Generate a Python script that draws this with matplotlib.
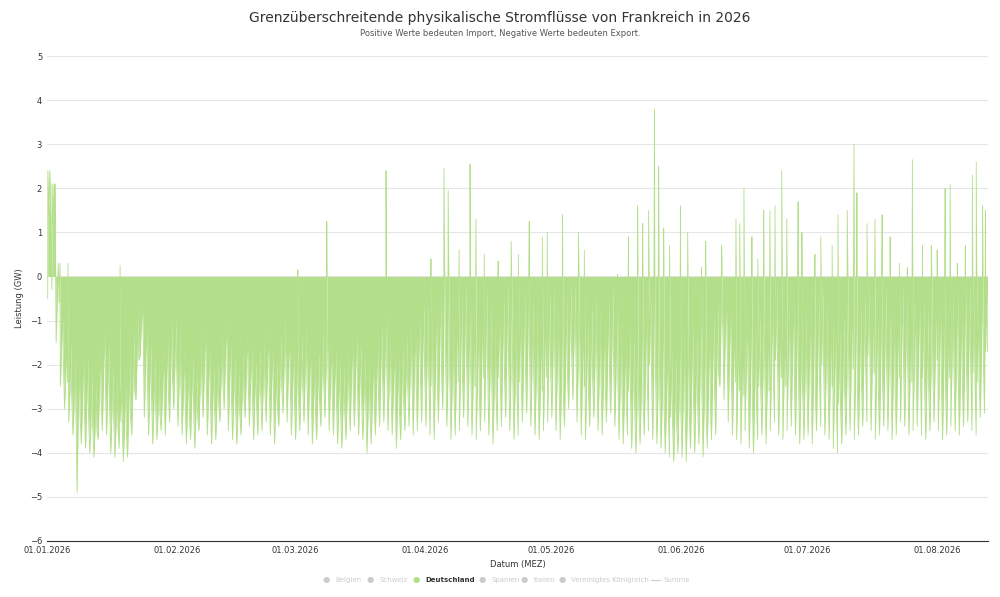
import numpy as np
import pandas as pd
import matplotlib.pyplot as plt
import matplotlib.dates as mdates

# daily lowest value (GW), 01.01.2026 .. 12.08.2026
low_jan = [-0.5, -0.3, -1.5, -2.5, -3.0, -3.3, -3.6, -4.9, -3.8, -3.9, -4.0, -4.1, -3.7, -3.5, -3.6, -4.0,
           -4.1, -3.9, -4.2, -4.1, -3.6, -2.8, -1.8, -3.2, -3.6, -3.8, -3.7, -3.5, -3.6, -3.3, -3.0]
low_feb = [-3.4, -3.6, -3.8, -3.7, -3.9, -3.5, -3.2, -3.6, -3.8, -3.7, -3.3, -3.0, -3.5, -3.7, -3.8, -3.6,
           -3.2, -3.4, -3.7, -3.6, -3.5, -3.3, -3.6, -3.8, -3.4, -3.1, -3.3, -3.6]
low_mar = [-3.7, -3.5, -3.3, -3.6, -3.8, -3.7, -3.4, -3.2, -3.5, -3.6, -3.8, -3.9, -3.7, -3.5, -3.4, -3.6,
           -3.7, -4.0, -3.8, -3.6, -3.4, -3.3, -3.5, -3.6, -3.9, -3.7, -3.5, -3.4, -3.6, -3.5, -3.3]
low_apr = [-3.4, -3.6, -3.7, -3.3, -3.0, -3.4, -3.7, -3.6, -3.5, -3.2, -3.4, -3.6, -3.7, -3.5, -3.3, -3.6,
           -3.8, -3.5, -3.4, -3.2, -3.5, -3.7, -3.6, -3.3, -3.1, -3.4, -3.6, -3.7, -3.5, -3.3]
low_may = [-3.2, -3.5, -3.7, -3.4, -3.0, -2.8, -3.3, -3.6, -3.7, -3.4, -3.2, -3.5, -3.6, -3.3, -3.1, -3.4,
           -3.7, -3.8, -3.6, -3.9, -4.0, -3.8, -3.6, -3.5, -3.7, -3.8, -3.9, -4.0, -4.1, -4.2, -4.0]
low_jun = [-4.1, -4.2, -3.9, -4.0, -3.8, -4.1, -3.9, -3.7, -3.6, -2.5, -2.8, -3.3, -3.6, -3.7, -3.8, -3.5,
           -3.9, -4.0, -3.7, -3.6, -3.8, -3.5, -3.3, -3.6, -3.7, -3.5, -3.4, -3.6, -3.8, -3.7]
low_jul = [-3.6, -3.8, -3.5, -3.4, -3.6, -3.7, -3.9, -4.0, -3.8, -3.6, -3.5, -3.7, -3.6, -3.4, -3.3, -3.5,
           -3.7, -3.6, -3.4, -3.5, -3.7, -3.6, -3.3, -3.4, -3.6, -3.5, -3.4, -3.6, -3.7, -3.5, -3.3]
low_aug = [-3.5, -3.7, -3.6, -3.4, -3.5, -3.6, -3.4, -3.3, -3.5, -3.6, -3.2, -3.1]

# typical daytime level (GW)
mid_jan = [1.4, 1.2, -0.6, -1.8, -2.4, -2.7, -3.0, -3.2, -3.0, -3.1, -3.4, -3.5, -2.8, -2.4, -2.8, -3.2,
           -3.4, -3.3, -3.5, -3.2, -2.6, -1.9, -1.2, -2.2, -2.7, -3.0, -3.1, -2.8, -2.6, -2.3, -2.1]
mid_feb = [-2.5, -2.8, -3.1, -2.9, -3.2, -2.6, -2.2, -2.7, -3.0, -2.9, -2.4, -2.0, -2.6, -2.9, -3.1, -2.8,
           -2.3, -2.6, -2.9, -2.7, -2.6, -2.3, -2.7, -3.0, -2.5, -2.1, -2.3, -2.7]
mid_mar = [-2.8, -2.5, -2.3, -2.6, -3.0, -2.8, -2.4, -2.1, -2.6, -2.7, -3.0, -3.1, -2.8, -2.5, -2.4, -2.7,
           -2.9, -3.1, -2.9, -2.6, -2.3, -2.1, -2.5, -2.7, -3.0, -2.8, -2.5, -2.3, -2.4, -2.2, -2.0]
mid_apr = [-2.2, -2.5, -2.3, -2.0, -1.8, -2.3, -2.6, -2.4, -2.2, -1.9, -2.2, -2.5, -2.6, -2.3, -2.0, -2.4,
           -2.7, -2.3, -2.1, -1.9, -2.3, -2.6, -2.4, -2.0, -1.8, -2.2, -2.5, -2.6, -2.3, -2.0]
mid_may = [-1.9, -2.3, -2.6, -2.2, -1.7, -1.6, -2.1, -2.5, -2.6, -2.3, -2.0, -2.4, -2.5, -2.1, -1.9, -2.3,
           -2.6, -2.8, -2.6, -2.9, -3.0, -2.8, -2.3, -2.0, -2.3, -2.7, -2.9, -3.0, -3.2, -3.3, -3.0]
mid_jun = [-2.9, -3.1, -2.7, -2.9, -2.5, -3.0, -2.7, -2.4, -2.2, -1.2, -1.5, -2.0, -2.4, -2.6, -2.7, -2.3,
           -2.7, -2.9, -2.5, -2.3, -2.6, -2.2, -1.9, -2.3, -2.5, -2.2, -2.1, -2.3, -2.6, -2.4]
mid_jul = [-2.3, -2.6, -2.2, -2.0, -2.3, -2.5, -2.7, -2.9, -2.6, -2.3, -2.1, -2.5, -2.4, -2.0, -1.8, -2.2,
           -2.5, -2.3, -2.0, -2.2, -2.5, -2.3, -1.9, -2.0, -2.4, -2.2, -2.0, -2.3, -2.5, -2.2, -1.9]
mid_aug = [-2.2, -2.5, -2.3, -2.0, -2.2, -2.4, -2.1, -1.9, -2.2, -2.4, -1.8, -1.7]

# daily highest value (GW)
high_jan = [2.4, 2.1, 0.3, -0.8, -1.2, -1.5, -1.8, -2.0, -1.6, -1.8, -2.2, -2.4, -1.5, -1.0, -1.5, -2.0,
            -2.3, -2.5, -2.2, -1.8, -1.2, -0.8, -0.6, -1.0, -1.5, -1.8, -2.0, -1.6, -1.3, -1.0, -0.9]
high_feb = [-1.2, -1.6, -2.0, -1.8, -2.2, -1.4, -1.0, -1.5, -2.0, -1.9, -1.3, -0.9, -1.4, -1.8, -2.1, -1.7,
            -1.2, -1.5, -1.9, -1.6, -1.4, -1.1, -1.5, -1.9, -1.3, -0.9, -1.2, -1.6]
high_mar = [-1.6, -1.3, -1.1, -1.5, -1.9, -1.7, -1.2, -0.9, -1.4, -1.6, -1.9, -2.0, -1.7, -1.3, -1.2, -1.5,
            -1.8, -2.0, -1.7, -1.4, -1.1, -0.9, -1.3, -1.5, -1.8, -1.6, -1.3, -1.1, -1.0, -0.8, -0.6]
high_apr = [-0.5, -0.8, -0.3, -0.2, -0.1, -0.6, -0.9, -0.4, -0.3, -0.1, -0.5, -0.7, -0.9, -0.4, -0.2, -0.6,
            -1.0, -0.5, -0.3, -0.1, -0.5, -0.8, -0.6, -0.2, -0.1, -0.4, -0.7, -0.9, -0.5, -0.3]
high_may = [-0.2, -0.6, -0.9, -0.4, -0.1, -0.1, -0.5, -0.8, -1.0, -0.6, -0.3, -0.7, -0.9, -0.4, -0.2, -0.6,
            -1.0, -1.3, -1.1, -1.4, -1.5, -1.2, -0.6, -0.3, -0.5, -0.9, -1.2, -1.4, -1.6, -1.8, -1.5]
high_jun = [-1.2, -1.6, -1.0, -1.3, -0.9, -1.5, -1.1, -0.8, -0.5, -0.1, -0.2, -0.4, -0.7, -0.9, -1.1, -0.6,
            -1.0, -1.2, -0.8, -0.5, -0.9, -0.4, -0.2, -0.6, -0.8, -0.5, -0.3, -0.6, -0.9, -0.7]
high_jul = [-0.5, -0.8, -0.4, -0.2, -0.6, -0.8, -1.0, -1.2, -0.9, -0.5, -0.3, -0.7, -0.6, -0.3, -0.1, -0.4,
            -0.7, -0.5, -0.2, -0.4, -0.7, -0.5, -0.2, -0.3, -0.6, -0.4, -0.3, -0.5, -0.7, -0.4, -0.2]
high_aug = [-0.4, -0.7, -0.5, -0.3, -0.4, -0.6, -0.3, -0.2, -0.4, -0.6, -0.2, -0.3]

# short import peaks: (day offset from 01.01.2026, GW)
spike_day = [0.2, 1.2, 1.9, 3.1, 5.0, 17.4, 59.7, 66.6, 80.7, 91.4, 94.5, 95.5, 98.1, 100.7, 102.1, 104.1,
             107.4, 110.5, 112.2, 114.8, 117.9, 119.1, 122.7, 126.5, 127.9, 135.8, 138.4, 140.6, 141.8,
             143.2, 144.6, 145.6, 146.8, 148.2, 150.8, 152.5, 155.8, 156.8, 160.6, 164.0, 164.9, 165.9,
             167.8, 169.2, 170.6, 172.1, 173.3, 174.9, 176.1, 178.8, 179.7, 182.8, 184.2, 186.9, 188.3,
             190.5, 192.1, 192.8, 195.2, 197.1, 198.8, 200.7, 202.9, 204.8, 206.0, 208.4, 210.5, 211.9,
             213.8, 215.0, 216.7, 218.6, 220.3, 221.2, 222.7, 223.4]
spike_val = [2.4, 2.1, 2.1, 0.3, 0.3, 0.25, 0.15, 1.25, 2.4, 0.4, 2.45, 1.95, 0.6, 2.55, 1.3, 0.5,
             0.35, 0.8, 0.5, 1.25, 0.9, 1.0, 1.4, 1.0, 0.6, 0.05, 0.9, 1.6, 1.2,
             1.5, 3.8, 2.5, 1.1, 0.7, 1.6, 1.0, 0.2, 0.8, 0.7, 1.3, 1.2, 2.0,
             0.9, 0.4, 1.5, 1.5, 1.6, 2.4, 1.3, 1.7, 1.0, 0.5, 0.9, 0.7, 1.4,
             1.5, 3.0, 1.9, 1.2, 1.3, 1.4, 0.9, 0.3, 0.2, 2.65, 0.7, 0.7, 0.6,
             2.0, 2.1, 0.3, 0.7, 2.3, 2.6, 1.6, 1.5]

lows = low_jan + low_feb + low_mar + low_apr + low_may + low_jun + low_jul + low_aug
mids = mid_jan + mid_feb + mid_mar + mid_apr + mid_may + mid_jun + mid_jul + mid_aug
highs = high_jan + high_feb + high_mar + high_apr + high_may + high_jun + high_jul + high_aug

start = pd.Timestamp("2026-01-01")
days = pd.date_range(start, periods=len(lows), freq="D")
t = list(days + pd.Timedelta(hours=4)) + list(days + pd.Timedelta(hours=10)) \
    + list(days + pd.Timedelta(hours=16)) + list(days + pd.Timedelta(hours=21)) \
    + [start + pd.Timedelta(days=d) for d in spike_day]
v = lows + mids + highs + mids + spike_val
s = pd.Series(v, index=t).sort_index()

green = "#b3df8a"
fig, ax = plt.subplots(figsize=(10, 5.97), dpi=100)
fig.subplots_adjust(left=0.047, right=0.988, top=0.906, bottom=0.094)
ax.fill_between(s.index, 0, s.values, color=green, lw=0)
ax.plot(s.index, s.values, color=green, lw=0.6)

ax.set_ylim(-6, 5)
ax.set_yticks(range(-6, 6))
ax.set_xlim(start, pd.Timestamp("2026-08-13"))
ax.xaxis.set_major_locator(mdates.MonthLocator())
ax.xaxis.set_major_formatter(mdates.DateFormatter("%d.%m.%Y"))
ax.grid(True, axis="y", color="#e6e6e6", lw=0.8)
ax.set_axisbelow(True)
for sp in ["top", "right", "left"]:
    ax.spines[sp].set_visible(False)
ax.spines["bottom"].set_color("#333333")
ax.tick_params(axis="both", length=0, labelsize=6, colors="#333333")
ax.set_xlabel("Datum (MEZ)", fontsize=6, color="#333333")
ax.set_ylabel("Leistung (GW)", fontsize=6, color="#333333")

fig.text(0.5, 0.963, "Grenzüberschreitende physikalische Stromflüsse von Frankreich in 2026",
         ha="center", fontsize=10, color="#333333")
fig.text(0.5, 0.94, "Positive Werte bedeuten Import, Negative Werte bedeuten Export.",
         ha="center", fontsize=6, color="#555555")

# legend
names = ["Belgien", "Schweiz", "Deutschland", "Spanien", "Italien", "Vereinigtes Königreich", "Summe"]
xs = [0.326, 0.370, 0.416, 0.482, 0.524, 0.562, 0.654]
for n, x in zip(names, xs):
    active = n == "Deutschland"
    if n == "Summe":
        fig.add_artist(plt.Line2D([x - 0.003, x + 0.006], [0.029, 0.029], color="#cccccc", lw=0.8))
    else:
        fig.text(x, 0.029, "●", color=green if active else "#cccccc", fontsize=6, ha="center", va="center")
    fig.text(x + 0.009, 0.029, n, fontsize=5, va="center",
             color="#333333" if active else "#cccccc", weight="bold" if active else "normal")

fig.savefig("out.png")
